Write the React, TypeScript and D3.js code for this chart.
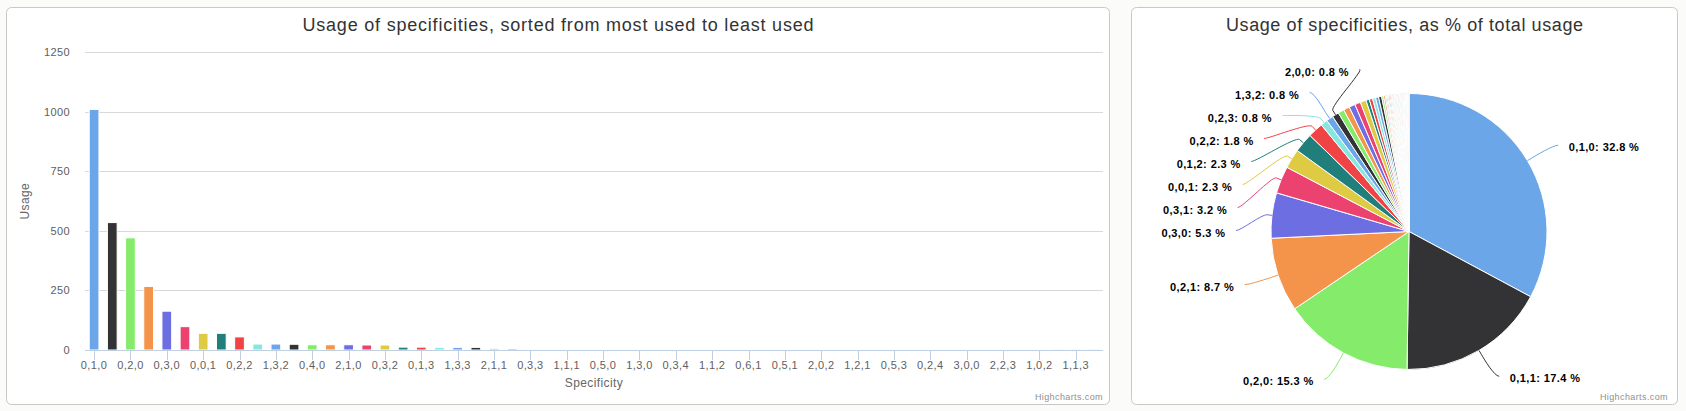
import React from 'react';
import * as d3 from 'd3';

const categories = [
  '0,1,0', '0,1,1', '0,2,0', '0,2,1', '0,3,0', '0,3,1', '0,0,1', '0,1,2', '0,2,2', '0,2,3',
  '1,3,2', '2,0,0', '0,4,0', '1,0,0', '2,1,0', '0,4,1', '0,3,2', '1,2,0', '0,1,3', '1,1,0',
  '1,3,3', '0,0,2', '2,1,1', '1,0,1', '0,3,3', '0,4,2', '1,1,1', '2,2,0', '0,5,0', '1,2,2',
  '1,3,0', '0,1,4', '0,3,4', '2,1,2', '1,1,2', '0,4,3', '0,6,1', '1,4,0', '0,5,1', '2,2,1',
  '2,0,2', '0,0,0', '1,2,1', '1,4,1', '0,5,3', '2,0,1', '0,2,4', '0,5,2', '3,0,0', '1,2,3',
  '2,2,3', '2,3,0', '1,0,2', '0,6,0', '1,1,3', '2,3,1',
];

const usage = [
  1010, 535, 471, 267, 163, 98, 70, 70, 55, 25,
  25, 24, 22, 22, 22, 21, 21, 12, 12, 11,
  11, 11, 7, 6, 4, 4, 4, 4, 4, 4,
  3, 3, 3, 3, 3, 3, 3, 3, 3, 3,
  3, 3, 2, 2, 2, 2, 2, 2, 2, 2,
  2, 2, 2, 1, 1, 1,
];

const palette = [
  '#6aa6e8', '#333336', '#85ec6b', '#f4934a', '#6e6ee3',
  '#eb4270', '#dfca43', '#217f7b', '#f04346', '#87e6de',
];

const yTicks = [0, 250, 500, 750, 1000, 1250];

const barTitle = 'Usage of specificities, sorted from most used to least used';
const pieTitle = 'Usage of specificities, as % of total usage';
const yAxisTitle = 'Usage';
const xAxisTitle = 'Specificity';
const credit = 'Highcharts.com';

const FONT = '"Liberation Sans", Arial, Helvetica, sans-serif';
const LS = 0.4;

type Lbl = {
  i: number;
  name: string;
  pct: number;
  theta: number;
  target: number;
  y: number;
  left: boolean;
};

function distribute(items: Lbl[], minY: number, maxY: number, size: number) {
  const sorted = [...items].sort((a, b) => a.target - b.target);
  const clusters = sorted.map((it) => ({ items: [it], top: it.target }));
  const place = (c: { items: Lbl[]; top: number }) => {
    const n = c.items.length;
    const mean = d3.mean(c.items, (d) => d.target) as number;
    let top = mean - ((n - 1) * size) / 2;
    if (top < minY) top = minY;
    if (top + (n - 1) * size > maxY) top = maxY - (n - 1) * size;
    c.top = top;
  };
  clusters.forEach(place);
  let merged = true;
  while (merged) {
    merged = false;
    for (let k = 1; k < clusters.length; k++) {
      const a = clusters[k - 1];
      const b = clusters[k];
      if (a.top + a.items.length * size > b.top) {
        const c = { items: [...a.items, ...b.items], top: 0 };
        place(c);
        clusters.splice(k - 1, 2, c);
        merged = true;
        break;
      }
    }
  }
  clusters.forEach((c) => c.items.forEach((it, j) => (it.y = c.top + j * size)));
}

export default function App() {
  const W = 1686;
  const H = 411;

  // ---------- bar chart ----------
  const plotL = 85;
  const plotR = 1103;
  const plotT = 52.3;
  const plotB = 350;
  const x = d3.scaleBand<string>().domain(categories).range([plotL, plotR]).paddingInner(0).paddingOuter(0);
  const y = d3.scaleLinear().domain([0, 1250]).range([plotB, plotT]);
  const bw = x.bandwidth() * 0.6 * 0.8 + 1;
  const color = (i: number) => palette[i % palette.length];

  // ---------- pie chart ----------
  const cx = 1409;
  const cy = 231.5;
  const r = 138;
  const dist = 30;
  const R = r + dist;
  const total = d3.sum(usage);
  const arcs = d3.pie<number>().sort(null).value((d) => d)(usage);
  const arcGen = d3.arc<d3.PieArcDatum<number>>().innerRadius(0).outerRadius(r);

  const labels: Lbl[] = arcs
    .map((a, i) => {
      const theta = (a.startAngle + a.endAngle) / 2;
      const pct = (a.value / total) * 100;
      return {
        i,
        name: categories[i],
        pct,
        theta,
        target: cy - R * Math.cos(theta),
        y: 0,
        left: theta > Math.PI,
      };
    })
    .filter((l) => l.pct >= 0.75);

  const minY = cy - R + 6;
  const maxY = cy + R;
  distribute(labels.filter((l) => l.left), minY, maxY, 23);
  distribute(labels.filter((l) => !l.left), minY, maxY, 23);

  const getX = (yy: number, left: boolean) => {
    const dy = Math.max(-R, Math.min(R, yy - cy));
    return cx + (left ? -1 : 1) * Math.sqrt(R * R - dy * dy);
  };

  const pageStyle = `body{margin:0;background:#fbfbfa;}`;

  return (
    <div>
      <style>{pageStyle}</style>
      <svg width={W} height={H} style={{ display: 'block', fontFamily: FONT }}>
        {/* panels */}
        <rect x={6.5} y={7.5} width={1103} height={397} rx={5} fill="#ffffff" stroke="#c8c8c8" />
        <rect x={1131.5} y={7.5} width={546} height={397} rx={5} fill="#ffffff" stroke="#c8c8c8" />

        {/* ---- bar chart ---- */}
        <text x={558} y={30.5} textAnchor="middle" fontSize={18} fill="#333333" textLength={511} lengthAdjust="spacing">
          {barTitle}
        </text>

        {yTicks.map((t) => (
          <g key={t}>
            {t > 0 && (
              <line x1={plotL} x2={plotR} y1={Math.round(y(t)) + 0.5} y2={Math.round(y(t)) + 0.5} stroke="#d8d8d8" />
            )}
            <text x={70} y={y(t) + 4} textAnchor="end" fontSize={11} fill="#606060" letterSpacing={LS}>
              {t}
            </text>
          </g>
        ))}

        <text
          transform={`translate(29,${(plotT + plotB) / 2}) rotate(-90)`}
          textAnchor="middle"
          fontSize={12}
          fill="#666666"
          letterSpacing={LS}
        >
          {yAxisTitle}
        </text>

        {usage.map((v, i) => {
          const cxBar = (x(categories[i]) as number) + x.bandwidth() / 2;
          const top = y(v);
          return (
            <rect
              key={categories[i]}
              x={cxBar - bw / 2}
              y={top}
              width={bw}
              height={plotB - top}
              fill={color(i)}
              stroke="#ffffff"
              strokeWidth={1}
            />
          );
        })}

        <line x1={plotL} x2={plotR} y1={plotB + 0.5} y2={plotB + 0.5} stroke="#c0d0e0" />
        {categories.map((c, i) =>
          i % 2 === 0 ? (
            <g key={c}>
              <line
                x1={Math.round((x(c) as number) + x.bandwidth() / 2) + 0.5}
                x2={Math.round((x(c) as number) + x.bandwidth() / 2) + 0.5}
                y1={plotB}
                y2={plotB + 10}
                stroke="#c0d0e0"
              />
              <text
                x={(x(c) as number) + x.bandwidth() / 2}
                y={369}
                textAnchor="middle"
                fontSize={11}
                fill="#606060"
                letterSpacing={LS}
              >
                {c}
              </text>
            </g>
          ) : null
        )}
        <text x={(plotL + plotR) / 2} y={387} textAnchor="middle" fontSize={12} fill="#666666" letterSpacing={LS}>
          {xAxisTitle}
        </text>
        <text x={1103} y={400} textAnchor="end" fontSize={9} fill="#909090" letterSpacing={LS}>
          {credit}
        </text>

        {/* ---- pie chart ---- */}
        <text x={1404.5} y={30.5} textAnchor="middle" fontSize={18} fill="#333333" textLength={357} lengthAdjust="spacing">
          {pieTitle}
        </text>
        <g transform={`translate(${cx},${cy})`}>
          {arcs.map((a, i) => (
            <path key={categories[i]} d={arcGen(a) as string} fill={color(i)} stroke="#ffffff" strokeWidth={1} strokeLinejoin="round" />
          ))}
        </g>
        {labels.map((l) => {
          const sgn = l.left ? -1 : 1;
          const ax = getX(l.y, l.left) + sgn * 5;
          const ex = cx + r * Math.sin(l.theta);
          const ey = cy - r * Math.cos(l.theta);
          const bx = cx + (r + 5) * Math.sin(l.theta);
          const by = cy - (r + 5) * Math.cos(l.theta);
          const c2x = 2 * bx - ex;
          const c2y = 2 * by - ey;
          const d = `M${ax},${l.y}C${ax - sgn * 5},${l.y} ${c2x},${c2y} ${bx},${by}L${ex},${ey}`;
          return (
            <g key={l.name}>
              <path d={d} fill="none" stroke={color(l.i)} strokeWidth={1} />
              <text
                x={ax + sgn * 10.5}
                y={l.y + 6}
                textAnchor={l.left ? 'end' : 'start'}
                fontSize={11}
                fontWeight="bold"
                fill="#000000"
                letterSpacing={LS}
              >
                {`${l.name}: ${l.pct.toFixed(1)} %`}
              </text>
            </g>
          );
        })}
        <text x={1668} y={400} textAnchor="end" fontSize={9} fill="#909090" letterSpacing={LS}>
          {credit}
        </text>
      </svg>
    </div>
  );
}
